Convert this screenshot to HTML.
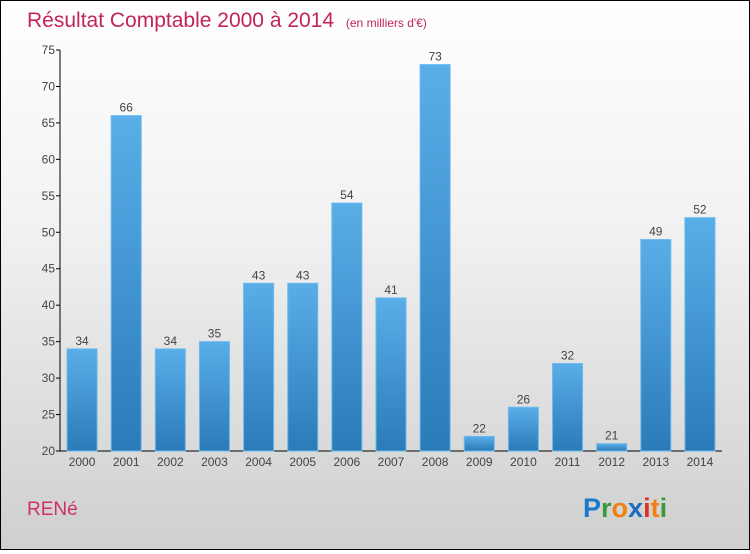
<!DOCTYPE html>
<html><head><meta charset="utf-8"><style>
body{margin:0}
#c{width:748px;height:548px;border:1px solid #000;background:linear-gradient(#fff,#f2f2f2 40%,#cfcfcf);position:relative;font-family:"Liberation Sans",sans-serif}
</style></head><body>
<div id="c">
<svg id="s" width="748" height="548">
<defs><linearGradient id="g" x1="0" y1="0" x2="0" y2="1"><stop offset="0" stop-color="#5aaee8"/><stop offset="1" stop-color="#2a7bb8"/></linearGradient></defs>
<text x="26" y="26" font-size="21" fill="#c0245a">Résultat Comptable 2000 à 2014 <tspan font-size="12" dx="6">(en milliers d'€)</tspan></text>
<text x="26" y="514" font-size="19" fill="#d0306a">RENé</text>
<g font-size="27" font-weight="bold"><text x="582" y="516"><tspan fill="#1a7ad0">P</tspan><tspan fill="#3a9a3a">r</tspan><tspan fill="#f08010">o</tspan><tspan fill="#1a6ac0">x</tspan><tspan fill="#e03020">i</tspan><tspan fill="#f08010">t</tspan><tspan fill="#3a9a3a">i</tspan></text></g>
</svg></div>
<script>
const categories=["2000","2001","2002","2003","2004","2005","2006","2007","2008","2009","2010","2011","2012","2013","2014"];
const values=[34,66,34,35,43,43,54,41,73,22,26,32,21,49,52];
const yTicks=[20,25,30,35,40,45,50,55,60,65,70,75];
const s=document.getElementById('s'),NS="http://www.w3.org/2000/svg";
const x0=59,x1=721,yTop=49,yBot=450,yMin=20,yMax=75;
const y=v=>yBot-(v-yMin)/(yMax-yMin)*(yBot-yTop);
const slot=(x1-x0)/categories.length;
function mk(t,a,p){const e=document.createElementNS(NS,t);for(const k in a)e.setAttribute(k,a[k]);(p||s).appendChild(e);return e;}
const ax=mk('path',{d:`M${x0} ${yTop}V${yBot}H${x1}`,stroke:'#000',fill:'none'});


yTicks.forEach(v=>{
 const t=mk('line',{x1:x0-4,x2:x0,y1:y(v),y2:y(v),stroke:'#000'});
 
 
 const l=mk('text',{x:x0-5,y:y(v)+4,'font-size':12,'text-anchor':'end',fill:'#444'});l.textContent=v;
 
 
});
categories.forEach((c,i)=>{
 const cx=x0+slot*(i+0.5),v=values[i];
 const b=mk('rect',{x:cx-15,y:y(v),width:30,height:yBot-y(v),fill:'url(#g)',stroke:'#6ab8ee','stroke-width':1});
 
 
 const l=mk('text',{x:cx,y:y(v)-4,'font-size':12,'text-anchor':'middle',fill:'#444'});l.textContent=v;
 
 
 const xl=mk('text',{x:cx,y:yBot+15,'font-size':12,'text-anchor':'middle',fill:'#444'});xl.textContent=c;
 
 
});
</script>
</body></html>
